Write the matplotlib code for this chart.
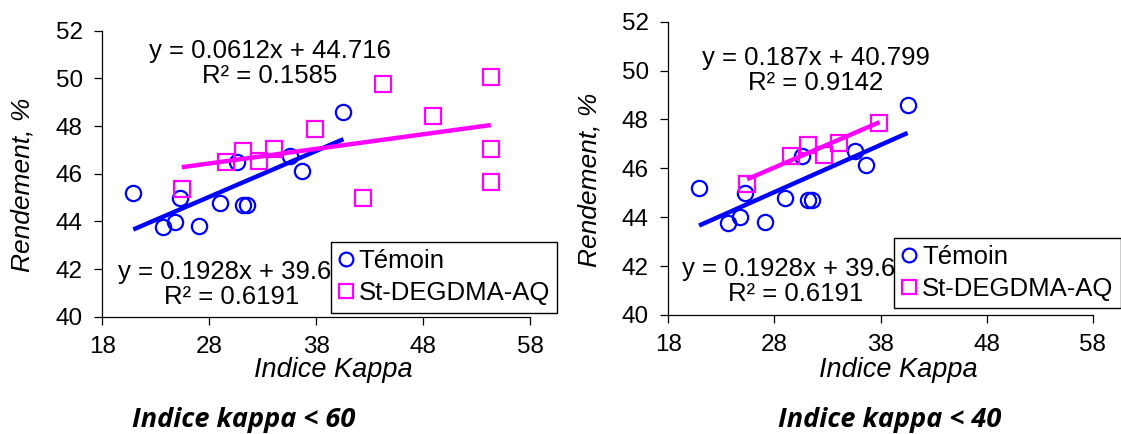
import matplotlib
matplotlib.use("Agg")
import matplotlib.pyplot as plt
import numpy as np

# Témoin (same points on both panels)
temoin_x = [20.9, 23.65, 24.8, 25.27, 27.07, 29.0, 30.57, 31.13, 31.5, 35.56, 36.65, 40.55]
temoin_y = [45.2, 43.75, 43.99, 45.0, 43.8, 44.78, 46.5, 44.69, 44.69, 46.73, 46.13, 48.58]

# St-DEGDMA-AQ
st_x = [25.43, 29.54, 31.19, 32.66, 34.09, 37.9, 42.42, 44.23, 48.91, 54.33, 54.33, 54.33]
st_y = [45.34, 46.5, 46.96, 46.54, 47.02, 47.86, 45.0, 49.76, 48.42, 50.07, 47.05, 45.65]

# trend lines (slope, intercept, r2) as printed on the chart
fit_temoin = (0.1928, 39.63, 0.6191)
fit_st_60 = (0.0612, 44.716, 0.1585)
fit_st_40 = (0.187, 40.799, 0.9142)

kappa_limits = [60, 40]
x_ticks = [18, 28, 38, 48, 58]
y_ticks = [40, 42, 44, 46, 48, 50, 52]

plt.rcParams['font.family'] = ['Liberation Sans', 'DejaVu Sans']

W, H = 1121, 434
fig = plt.figure(figsize=(W / 100, H / 100), dpi=100)

# axes boxes in pixels: left, right, top, bottom
boxes = [(102.3, 530.0, 30.7, 316.7), (668.3, 1092.7, 21.7, 315.0)]
fits_st = [fit_st_60, fit_st_40]
upper_pos = [(0.392, 0.885), (0.347, 0.834)]
lower_pos = [(0.302, 0.114), (0.301, 0.115)]
legend_pos = [(0.5347, 0.2612), (0.5325, 0.2636)]
title_x = [243.8, 890]

BLUE = '#0000FF'
MAGENTA = '#FF00FF'


def fmt(v):
    return ('%.4f' % v).rstrip('0').rstrip('.')


def trend(ax, xs, fit, color):
    x = np.array([min(xs), max(xs)])
    ax.plot(x, fit[0] * x + fit[1], color=color, lw=3.2, solid_capstyle='butt', zorder=4)


for i, lim in enumerate(kappa_limits):
    l, r, t, b = boxes[i]
    ax = fig.add_axes([l / W, (H - b) / H, (r - l) / W, (b - t) / H])

    sx = [x for x in st_x if x < lim]
    sy = [y for x, y in zip(st_x, st_y) if x < lim]

    ax.plot(temoin_x, temoin_y, 'o', ls='none', ms=11, mfc='none', mec=BLUE, mew=1.6,
            label='Témoin', zorder=3)
    ax.plot(sx, sy, 's', ls='none', ms=11.5, mfc='none', mec=MAGENTA, mew=1.6,
            label='St-DEGDMA-AQ', zorder=3)
    trend(ax, temoin_x, fit_temoin, BLUE)
    trend(ax, sx, fits_st[i], MAGENTA)

    f = fits_st[i]
    ax.text(upper_pos[i][0], upper_pos[i][1],
            'y = %sx + %s\nR² = %s' % (fmt(f[0]), fmt(f[1]), fmt(f[2])),
            transform=ax.transAxes, ha='center', va='center', fontsize=18.5,
            linespacing=1.05, multialignment='center')
    ax.text(lower_pos[i][0], lower_pos[i][1],
            'y = %sx + %s\nR² = %s' % (fmt(fit_temoin[0]), fmt(fit_temoin[1]), fmt(fit_temoin[2])),
            transform=ax.transAxes, ha='center', va='center', fontsize=18.5,
            linespacing=1.05, multialignment='center')

    ax.set_xlim(18, 58)
    ax.set_ylim(40, 52)
    ax.set_xticks(x_ticks)
    ax.set_yticks(y_ticks)
    for s in ['top', 'right']:
        ax.spines[s].set_visible(False)
    for s in ['left', 'bottom']:
        ax.spines[s].set_linewidth(0.9)
    ax.tick_params(direction='out', length=6, width=0.9, labelsize=17.5)
    ax.tick_params(axis='y', pad=8)
    ax.tick_params(axis='x', pad=8)

    ax.text(-0.186, 0.462, 'Rendement, %', rotation=90, style='italic', fontsize=19,
            transform=ax.transAxes, ha='center', va='center')
    ax.text(0.541, -0.212, 'Indice Kappa', style='italic', fontsize=19.5,
            transform=ax.transAxes, ha='center', va='baseline')

    leg = ax.legend(loc='upper left', bbox_to_anchor=legend_pos[i], borderaxespad=0,
                    fontsize=18.5, fancybox=False, framealpha=1, edgecolor='black',
                    handlelength=0.6, handletextpad=0.2, borderpad=0.28,
                    labelspacing=0.32, markerscale=0.9)
    leg.get_frame().set_linewidth(1.0)

    fig.text(title_x[i] / W, 1 - 427.3 / H, 'Indice kappa < %d' % lim,
             family=['Open Sans', 'DejaVu Sans'], weight='bold', style='italic',
             fontsize=19.5, ha='center', va='baseline')

fig.savefig('out.png', dpi=100)
